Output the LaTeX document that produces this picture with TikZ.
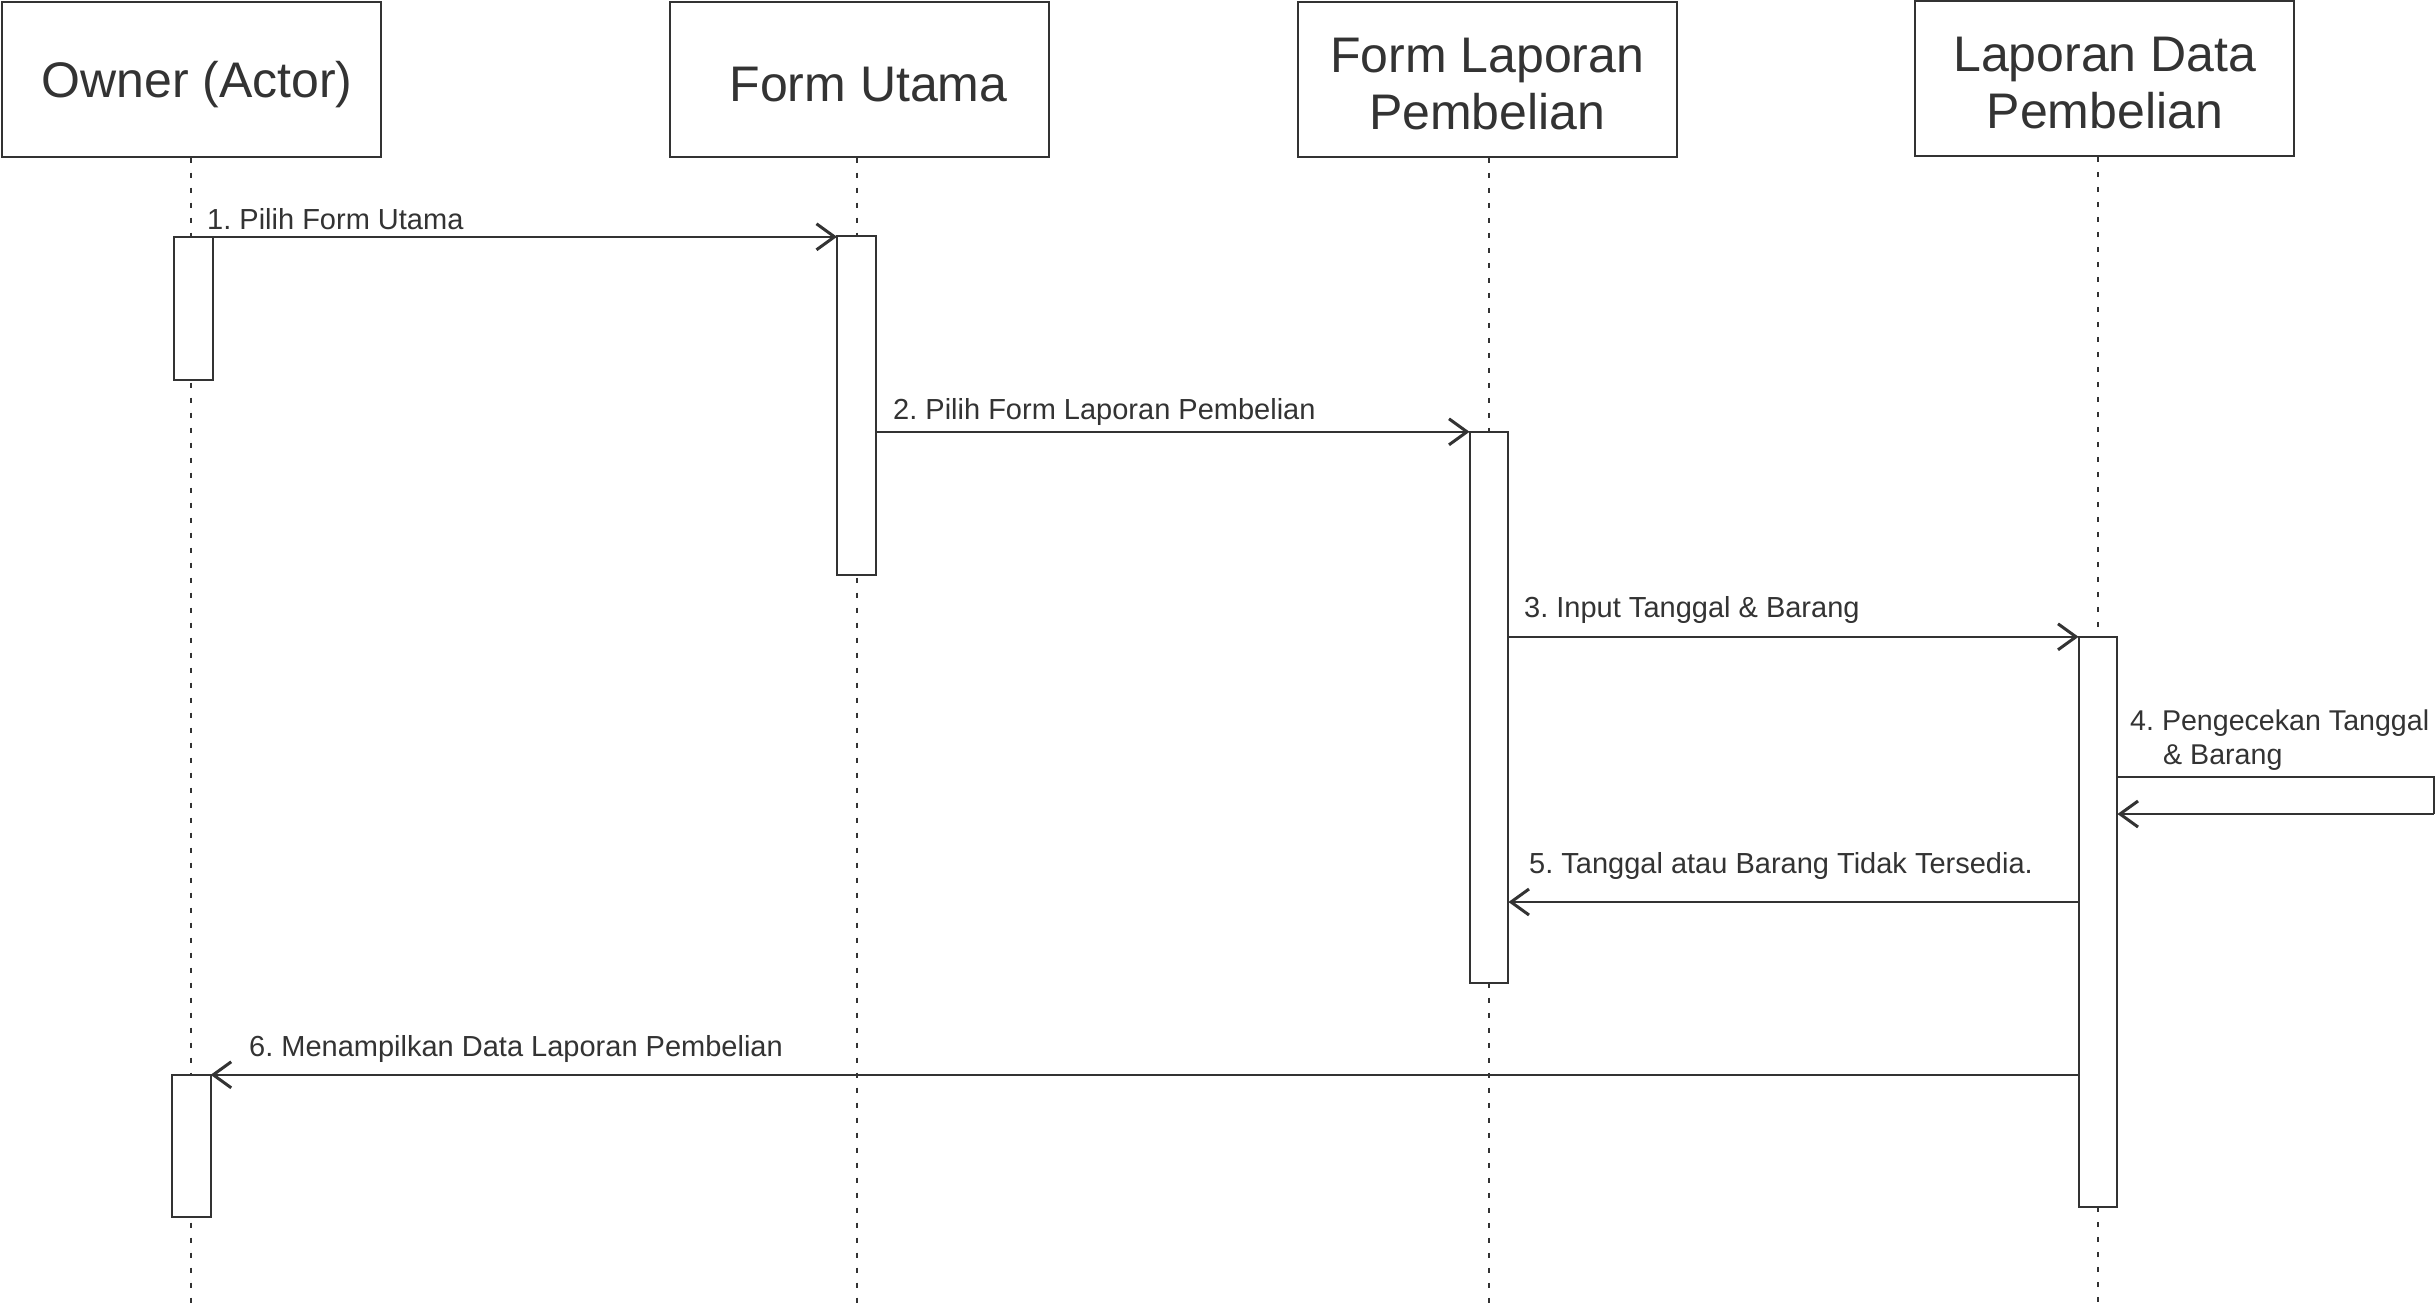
\documentclass[tikz,border=0pt]{standalone}
\usepackage{fontspec}
\setmainfont{Liberation Sans}
\usetikzlibrary{arrows.meta}
\definecolor{ink}{HTML}{333333}
\frenchspacing
\begin{document}
\begin{tikzpicture}[x=1pt,y=-1pt,
 head/.style={draw=ink, line width=2pt, fill=white, minimum width=379pt, minimum height=155pt, inner sep=0pt},
 headtext/.style={align=center, font=\fontsize{50}{57}\selectfont, text=ink, inner sep=0pt, yshift=-5pt},
 act/.style={minimum width=38.5pt, inner sep=0pt},
 actbox/.style={draw=ink, line width=2pt, fill=white},
 life/.style={draw=ink, line width=2pt, dash pattern=on 5pt off 10pt},
 msg/.style={draw=ink, line width=2.5pt, -{Straight Barb[length=18pt,width=26pt,line width=3pt]}},
 selfline/.style={draw=ink, line width=2.5pt},
 lbl/.style={font=\fontsize{29}{34}\selectfont, text=ink, anchor=base west, inner sep=0pt}]
\useasboundingbox (0,0) rectangle (2436,1304);
\fill[white] (0,0) rectangle (2436,1304);
% headers
\node[head] (owner) at (191,79.2) {};
\node[head] (fu) at (859.5,79.2) {};
\node[head] (flp) at (1487.3,79.3) {};
\node[head] (ldp) at (2104.8,78.5) {};
\node[headtext, xshift=6pt] (ownert) at (owner) {Owner (Actor)};
\node[headtext, xshift=9pt] (fut) at (fu) {Form Utama};
\node[headtext] (flpt) at (flp) {Form Laporan\\Pembelian};
\node[headtext] (ldpt) at (ldp) {Laporan Data\\Pembelian};
\coordinate (bot) at (0,1304);
% activation boxes (positions)
\path (193.3,308.5) node[act, minimum height=143pt] (oa1) {};
\path (856.5,405.7) node[act, minimum height=338.7pt] (fua) {};
\path (1489,707.5) node[act, minimum height=551pt] (flpa) {};
\path (2098,922) node[act, minimum height=570pt] (ldpa) {};
\path (191.2,1146) node[act, minimum height=142pt] (oa2) {};
% lifelines
\draw[life] (oa2 |- owner.south) -- (oa2 |- bot);
\draw[life] (fua |- fu.south) -- (fua |- bot);
\draw[life] (flpa |- flp.south) -- (flpa |- bot);
\draw[life] (ldpa |- ldp.south) -- (ldpa |- bot);
% activation boxes drawn
\foreach \a in {oa1,fua,flpa,ldpa,oa2}{
  \draw[actbox] (\a.north west) rectangle (\a.south east);
}
% messages
\draw[msg] (oa1.north east) -- (fua.west |- oa1.north east);
\draw[msg] (fua.east |- flpa.north) -- (flpa.north west);
\draw[msg] (flpa.east |- ldpa.north) -- (ldpa.north west);
\coordinate (s1) at (2434,777);
\coordinate (s2) at (2434,814);
\draw[selfline] (ldpa.east |- s1) -- (s1) -- (s2);
\draw[msg] (s2) -- (ldpa.east |- s2);
\coordinate (m5) at (0,902);
\draw[msg] (ldpa.west |- m5) -- (flpa.east |- m5);
\draw[msg] (ldpa.west |- oa2.north) -- (oa2.north east);
% labels
\node[lbl] (l1) at (207,229) {1. Pilih Form Utama};
\node[lbl] (l2) at (893,419) {2. Pilih Form Laporan Pembelian};
\node[lbl] (l3) at (1524,617) {3. Input Tanggal \& Barang};
\node[lbl, font=\fontsize{28.6}{34}\selectfont] (l4a) at (2130,730.5) {4. Pengecekan Tanggal};
\node[lbl, font=\fontsize{28.6}{34}\selectfont] (l4b) at (2163,764) {\& Barang};
\node[lbl] (l5) at (1529,873) {5. Tanggal atau Barang Tidak Tersedia.};
\node[lbl] (l6) at (249,1056) {6. Menampilkan Data Laporan Pembelian};
\end{tikzpicture}
\end{document}
